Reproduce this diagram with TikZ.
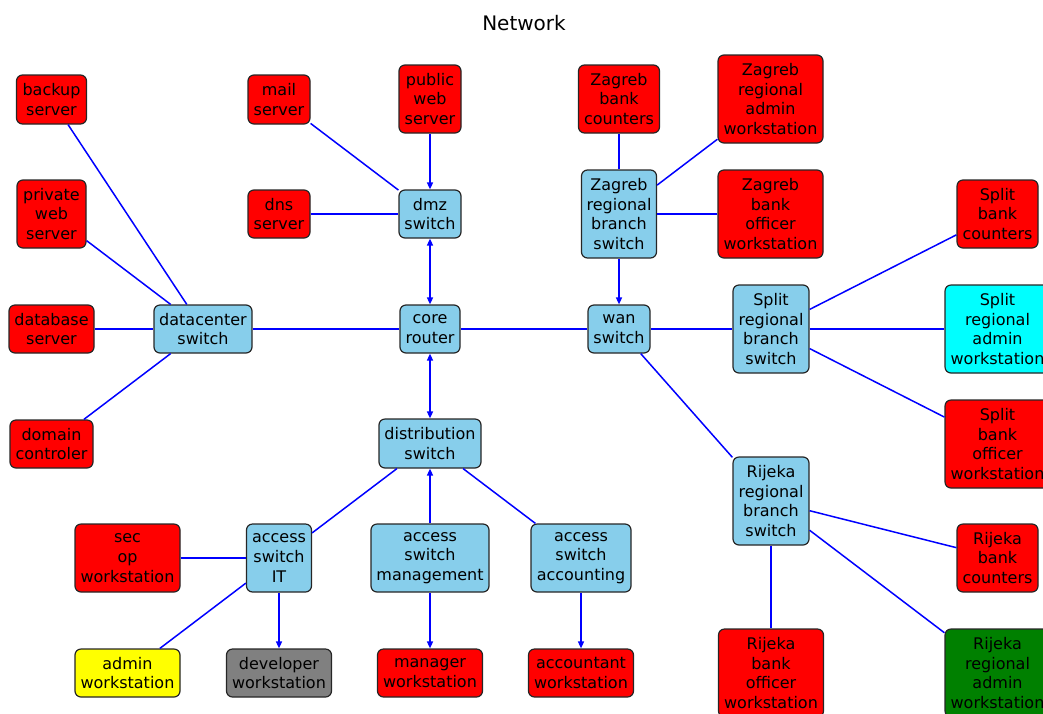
\documentclass[tikz,border=0pt]{standalone}
\usepackage{fontspec}
\setmainfont{DejaVu Sans}
\usetikzlibrary{arrows.meta}
\definecolor{skyb}{HTML}{87CEEB}
\definecolor{edgeblue}{HTML}{0000FF}
\definecolor{grn}{HTML}{008000}
\definecolor{cyn}{HTML}{00FFFF}
\definecolor{yel}{HTML}{FFFF00}
\definecolor{gry}{HTML}{808080}
\tikzset{
 nbox/.style={draw=black!85, line width=1.2pt, rounded corners=6pt, align=center, inner sep=0pt, font=\fontsize{16}{19.7}\selectfont, text=black},
 sw/.style={nbox, fill=skyb},
 rd/.style={nbox, fill=red},
 lk/.style={draw=edgeblue, line width=1.5pt},
 ar/.style={lk, -{Triangle[length=7pt,width=6pt]}},
 artwo/.style={lk, {Triangle[length=7pt,width=6pt]}-{Triangle[length=7pt,width=6pt]}},
}
\begin{document}
\begin{tikzpicture}[x=1pt,y=-1pt]
\useasboundingbox (0,0) rectangle (1043,713);
\clip (0,0) rectangle (1043,713);
\node[font=\fontsize{20}{24}\selectfont] (title) at (524,23) {Network};
% left column
\node[rd, minimum width=70, minimum height=49] (backup) at (51.5,99.5) {backup\\server};
\node[rd, minimum width=69, minimum height=68] (pweb) at (51.5,214) {private\\web\\server};
\node[rd, minimum width=85, minimum height=48] (db) at (51.5,329) {database\\server};
\node[rd, minimum width=83, minimum height=48] (dom) at (51.5,444) {domain\\controler};
\node[sw, minimum width=98, minimum height=48] (dc) at (203,329) {datacenter\\switch};
% dmz
\node[rd, minimum width=62, minimum height=49] (mail) at (279,99.5) {mail\\server};
\node[rd, minimum width=62, minimum height=68] (pubweb) at (430,99) {public\\web\\server};
\node[rd, minimum width=62, minimum height=48] (dns) at (279,214) {dns\\server};
\node[sw, minimum width=62, minimum height=48] (dmz) at (430,214) {dmz\\switch};
\node[sw, minimum width=60, minimum height=48] (core) at (430,329) {core\\router};
\node[sw, minimum width=102, minimum height=49] (dist) at (430,443.5) {distribution\\switch};
% access
\node[sw, minimum width=65, minimum height=68] (accit) at (279,558) {access\\switch\\IT};
\node[rd, minimum width=105, minimum height=68] (secop) at (127.5,558) {sec\\op\\workstation};
\node[sw, minimum width=118, minimum height=68] (accmg) at (430,558) {access\\switch\\management};
\node[sw, minimum width=100, minimum height=68] (accac) at (581,558) {access\\switch\\accounting};
\node[nbox, fill=yel, minimum width=105, minimum height=48] (adminws) at (127.5,673) {admin\\workstation};
\node[nbox, fill=gry, minimum width=105, minimum height=48] (devws) at (279,673) {developer\\workstation};
\node[rd, minimum width=105, minimum height=48] (mgrws) at (430,673) {manager\\workstation};
\node[rd, minimum width=105, minimum height=48] (accws) at (581,673) {accountant\\workstation};
% Zagreb
\node[rd, minimum width=81, minimum height=68] (zgc) at (619,99) {Zagreb\\bank\\counters};
\node[rd, minimum width=105, minimum height=88] (zga) at (770.5,99) {Zagreb\\regional\\admin\\workstation};
\node[sw, minimum width=75, minimum height=88] (zgs) at (619,214) {Zagreb\\regional\\branch\\switch};
\node[rd, minimum width=105, minimum height=88] (zgo) at (770.5,214) {Zagreb\\bank\\officer\\workstation};
\node[sw, minimum width=62, minimum height=48] (wan) at (619,329) {wan\\switch};
% Split
\node[sw, minimum width=76, minimum height=88] (sts) at (771,329) {Split\\regional\\branch\\switch};
\node[rd, minimum width=81, minimum height=68] (stc) at (997.5,214) {Split\\bank\\counters};
\node[nbox, fill=cyn, minimum width=105, minimum height=88] (sta) at (997.5,329) {Split\\regional\\admin\\workstation};
\node[rd, minimum width=105, minimum height=88] (sto) at (997.5,444) {Split\\bank\\officer\\workstation};
% Rijeka
\node[sw, minimum width=76, minimum height=88] (rjs) at (771,501) {Rijeka\\regional\\branch\\switch};
\node[rd, minimum width=81, minimum height=68] (rjc) at (997.5,558) {Rijeka\\bank\\counters};
\node[rd, minimum width=105, minimum height=88] (rjo) at (771,673) {Rijeka\\bank\\officer\\workstation};
\node[nbox, fill=grn, minimum width=105, minimum height=88] (rja) at (997.5,673) {Rijeka\\regional\\admin\\workstation};
% edges
\draw[lk] (backup) -- (dc);
\draw[lk] (pweb) -- (dc);
\draw[lk] (db) -- (dc);
\draw[lk] (dom) -- (dc);
\draw[lk] (dc) -- (core);
\draw[lk] (mail) -- (dmz);
\draw[lk] (dns) -- (dmz);
\draw[ar] (pubweb) -- (dmz);
\draw[artwo] (dmz) -- (core);
\draw[artwo] (core) -- (dist);
\draw[lk] (core) -- (wan);
\draw[lk] (dist) -- (accit);
\draw[ar] (accmg) -- (dist);
\draw[lk] (dist) -- (accac);
\draw[lk] (secop) -- (accit);
\draw[lk] (adminws) -- (accit);
\draw[ar] (accit) -- (devws);
\draw[ar] (accmg) -- (mgrws);
\draw[ar] (accac) -- (accws);
\draw[lk] (zgc) -- (zgs);
\draw[lk] (zga) -- (zgs);
\draw[lk] (zgo) -- (zgs);
\draw[ar] (zgs) -- (wan);
\draw[lk] (wan) -- (sts);
\draw[lk] (wan) -- (rjs);
\draw[lk] (sts) -- (stc);
\draw[lk] (sts) -- (sta);
\draw[lk] (sts) -- (sto);
\draw[lk] (rjs) -- (rjc);
\draw[lk] (rjs) -- (rjo);
\draw[lk] (rjs) -- (rja);
\end{tikzpicture}
\end{document}
